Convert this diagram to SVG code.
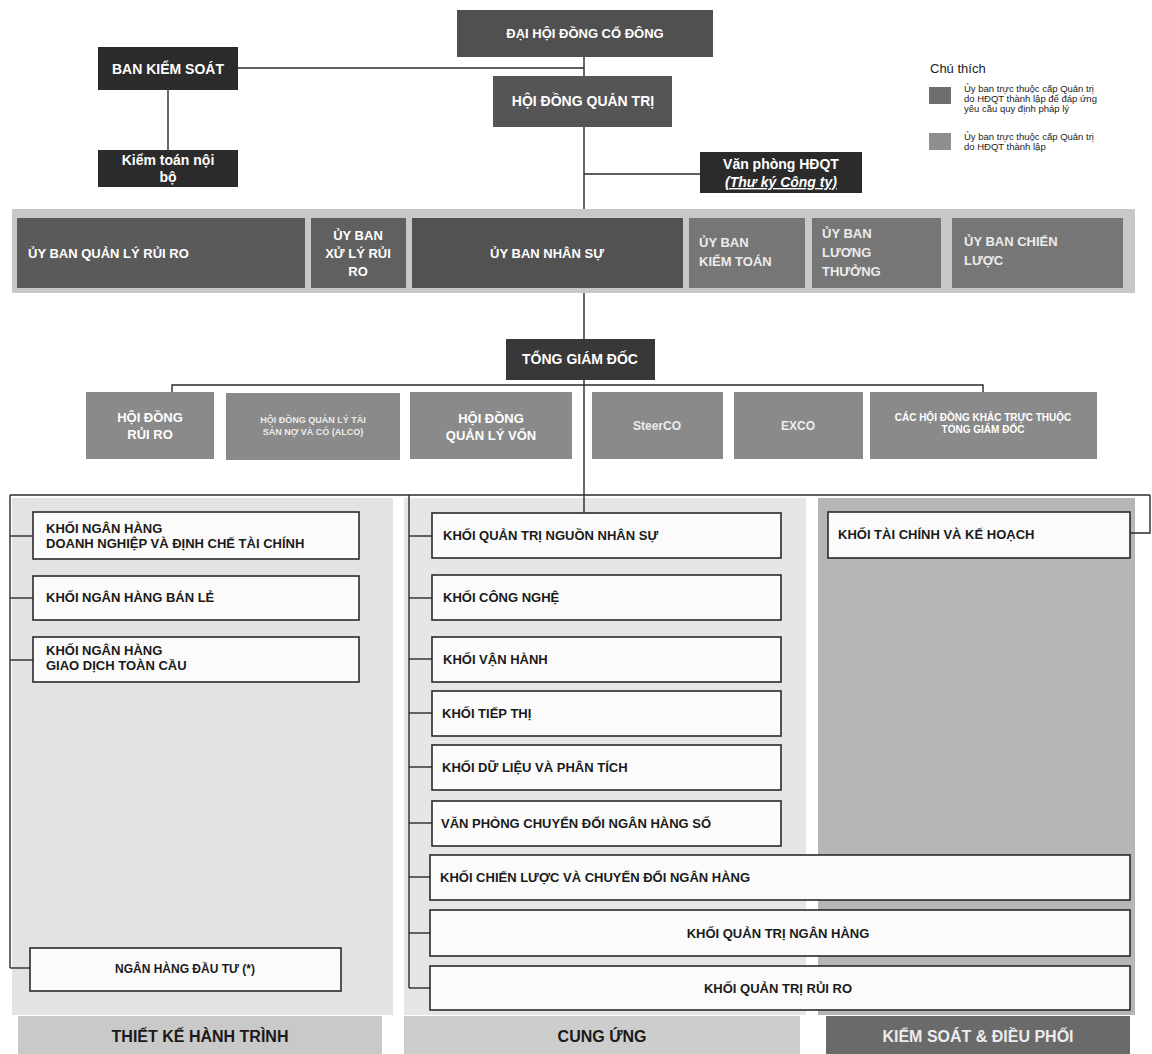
<svg xmlns="http://www.w3.org/2000/svg" width="1152" height="1054" viewBox="0 0 1152 1054">
<style>
text{font-family:"Liberation Sans",Arial,sans-serif;font-weight:bold}
.w{fill:#fff}
.lw{fill:#ececec}
.d{fill:#1a1a1a}
.c{text-anchor:middle}
.s13{font-size:13px}
.s14{font-size:14px}
.s12{font-size:12px}
.s10{font-size:10px}
.s9{font-size:9px}
.box{fill:#fbfbfb;stroke:#2a2a2a;stroke-width:1.6}
.conn line,.conn path{stroke:#2a2a2a;stroke-width:1.4;fill:none}
.leg{font-weight:normal;font-size:9.5px;fill:#222}
</style>
<rect width="1152" height="1054" fill="#ffffff"/>

<g id="column-backgrounds">
<rect x="12" y="498" width="381" height="517" fill="#e3e3e3"/>
<rect x="404" y="498" width="402" height="517" fill="#e6e6e6"/>
<rect x="818" y="498" width="317" height="517" fill="#b6b6b6"/>
</g>

<rect x="12" y="209" width="1123" height="84" fill="#c8c8c8"/>

<g class="conn" id="connectors">
<line x1="238" y1="68" x2="584" y2="68"/>
<line x1="584" y1="57" x2="584" y2="76"/>
<line x1="168" y1="90" x2="168" y2="150"/>
<line x1="584" y1="127" x2="584" y2="209"/>
<line x1="584" y1="174" x2="700" y2="174"/>
<line x1="584" y1="293" x2="584" y2="339"/>
<line x1="584" y1="380" x2="584" y2="513"/>
<path d="M172 392 V385 H983 V392"/>
<line x1="10" y1="495" x2="1150" y2="495"/>
<line x1="10" y1="495" x2="10" y2="968"/>
<line x1="10" y1="536" x2="33" y2="536"/>
<line x1="10" y1="598" x2="33" y2="598"/>
<line x1="10" y1="660" x2="33" y2="660"/>
<line x1="10" y1="968" x2="30" y2="968"/>
<line x1="409" y1="495" x2="409" y2="988"/>
<line x1="409" y1="536" x2="432" y2="536"/>
<line x1="409" y1="598" x2="432" y2="598"/>
<line x1="409" y1="659" x2="432" y2="659"/>
<line x1="409" y1="713" x2="432" y2="713"/>
<line x1="409" y1="767" x2="432" y2="767"/>
<line x1="409" y1="823" x2="432" y2="823"/>
<line x1="409" y1="877" x2="430" y2="877"/>
<line x1="409" y1="933" x2="430" y2="933"/>
<line x1="409" y1="988" x2="430" y2="988"/>
<path d="M1150 495 V533 H1130"/>
</g>

<g id="dhdcd"><rect x="457" y="10" width="256" height="47" fill="#505050"/><text class="w c s13" x="585" y="38">ĐẠI HỘI ĐỒNG CỔ ĐÔNG</text></g>
<g id="hdqt"><rect x="493" y="76" width="179" height="51" fill="#555555"/><text class="w c s14" x="583" y="106">HỘI ĐỒNG QUẢN TRỊ</text></g>
<g id="bks"><rect x="98" y="47" width="140" height="43" fill="#2b2b2b"/><text class="w c s14" x="168" y="74">BAN KIỂM SOÁT</text></g>
<g id="ktnb"><rect x="98" y="150" width="140" height="37" fill="#2b2b2b"/><text class="w c s14" x="168" y="165">Kiểm toán nội</text><text class="w c s14" x="168" y="182">bộ</text></g>
<g id="vanphong"><rect x="700" y="152" width="162" height="41" fill="#2b2b2b"/><text class="w c s14" x="781" y="169">Văn phòng HĐQT</text><text class="w c s14" x="781" y="187" font-style="italic" text-decoration="underline">(Thư ký Công ty)</text></g>

<g id="legend">
<text x="930" y="73" style="font-weight:normal;font-size:13px;fill:#222">Chú thích</text>
<rect x="929" y="87" width="22" height="17" fill="#6e6e6e"/>
<text class="leg" x="964" y="92">Ủy ban trực thuộc cấp Quản trị</text>
<text class="leg" x="964" y="102">do HĐQT thành lập để đáp ứng</text>
<text class="leg" x="964" y="112">yêu cầu quy định pháp lý</text>
<rect x="929" y="133" width="22" height="17" fill="#8e8e8e"/>
<text class="leg" x="964" y="140">Ủy ban trực thuộc cấp Quản trị</text>
<text class="leg" x="964" y="150">do HĐQT thành lập</text>
</g>

<g id="ub-qlrr"><rect x="17" y="218" width="288" height="70" fill="#5a5a5a"/><text class="w s13" x="28" y="258">ỦY BAN QUẢN LÝ RỦI RO</text></g>
<g id="ub-xlrr"><rect x="311" y="218" width="95" height="70" fill="#606060"/><text class="w c s13" x="358" y="240">ỦY BAN</text><text class="w c s13" x="358" y="258">XỬ LÝ RỦI</text><text class="w c s13" x="358" y="276">RO</text></g>
<g id="ub-ns"><rect x="412" y="218" width="271" height="70" fill="#525252"/><text class="w c s13" x="547" y="258">ỦY BAN NHÂN SỰ</text></g>
<g id="ub-kt"><rect x="689" y="218" width="116" height="70" fill="#767676"/><text class="lw s13" x="699" y="247">ỦY BAN</text><text class="lw s13" x="699" y="266">KIỂM TOÁN</text></g>
<g id="ub-lt"><rect x="812" y="218" width="129" height="70" fill="#767676"/><text class="lw s13" x="822" y="238">ỦY BAN</text><text class="lw s13" x="822" y="257">LƯƠNG</text><text class="lw s13" x="822" y="276">THƯỞNG</text></g>
<g id="ub-cl"><rect x="952" y="218" width="171" height="70" fill="#767676"/><text class="lw s13" x="964" y="246">ỦY BAN CHIẾN</text><text class="lw s13" x="964" y="265">LƯỢC</text></g>

<g id="tgd"><rect x="506" y="339" width="149" height="41" fill="#383838"/><text class="w c s14" x="580" y="364">TỔNG GIÁM ĐỐC</text></g>

<g id="hd-rr"><rect x="86" y="392" width="128" height="67" fill="#8a8a8a"/><text class="w c s13" x="150" y="422">HỘI ĐỒNG</text><text class="w c s13" x="150" y="439">RỦI RO</text></g>
<g id="hd-alco"><rect x="226" y="393" width="174" height="67" fill="#8a8a8a"/><text class="lw c s9" x="313" y="423">HỘI ĐỒNG QUẢN LÝ TÀI</text><text class="lw c s9" x="313" y="435">SẢN NỢ VÀ CÓ (ALCO)</text></g>
<g id="hd-qlv"><rect x="410" y="392" width="162" height="67" fill="#8a8a8a"/><text class="w c s13" x="491" y="423">HỘI ĐỒNG</text><text class="w c s13" x="491" y="440">QUẢN LÝ VỐN</text></g>
<g id="steerco"><rect x="592" y="392" width="131" height="67" fill="#8a8a8a"/><text class="lw c s12" x="657" y="430">SteerCO</text></g>
<g id="exco"><rect x="734" y="392" width="129" height="67" fill="#8a8a8a"/><text class="lw c s12" x="798" y="430">EXCO</text></g>
<g id="hd-khac"><rect x="870" y="392" width="227" height="67" fill="#8a8a8a"/><text class="w c s10" x="983" y="421">CÁC HỘI ĐỒNG KHÁC TRỰC THUỘC</text><text class="w c s10" x="983" y="433">TỔNG GIÁM ĐỐC</text></g>

<g id="k-dn"><rect class="box" x="33" y="512" width="326" height="47"/><text class="d s13" x="46" y="533">KHỐI NGÂN HÀNG</text><text class="d s13" x="46" y="548">DOANH NGHIỆP VÀ ĐỊNH CHẾ TÀI CHÍNH</text></g>
<g id="k-bl"><rect class="box" x="33" y="576" width="326" height="44"/><text class="d s13" x="46" y="602">KHỐI NGÂN HÀNG BÁN LẺ</text></g>
<g id="k-gdtc"><rect class="box" x="33" y="637" width="326" height="45"/><text class="d s13" x="46" y="655">KHỐI NGÂN HÀNG</text><text class="d s13" x="46" y="670">GIAO DỊCH TOÀN CẦU</text></g>
<g id="k-nhdt"><rect class="box" x="30" y="948" width="311" height="43"/><text class="d c s12" x="185" y="973">NGÂN HÀNG ĐẦU TƯ (*)</text></g>

<g id="k-ns"><rect class="box" x="432" y="513" width="349" height="45"/><text class="d s13" x="443" y="540">KHỐI QUẢN TRỊ NGUỒN NHÂN SỰ</text></g>
<g id="k-cn"><rect class="box" x="432" y="575" width="349" height="45"/><text class="d s13" x="443" y="602">KHỐI CÔNG NGHỆ</text></g>
<g id="k-vh"><rect class="box" x="432" y="637" width="349" height="45"/><text class="d s13" x="443" y="664">KHỐI VẬN HÀNH</text></g>
<g id="k-tt"><rect class="box" x="432" y="691" width="349" height="45"/><text class="d s13" x="442" y="718">KHỐI TIẾP THỊ</text></g>
<g id="k-dl"><rect class="box" x="432" y="745" width="349" height="45"/><text class="d s13" x="442" y="772">KHỐI DỮ LIỆU VÀ PHÂN TÍCH</text></g>
<g id="k-vpcd"><rect class="box" x="432" y="801" width="349" height="45"/><text class="d s13" x="441" y="828">VĂN PHÒNG CHUYỂN ĐỔI NGÂN HÀNG SỐ</text></g>
<g id="k-cl"><rect class="box" x="430" y="855" width="700" height="45"/><text class="d s13" x="440" y="882">KHỐI CHIẾN LƯỢC VÀ CHUYỂN ĐỔI NGÂN HÀNG</text></g>
<g id="k-qtnh"><rect class="box" x="430" y="910" width="700" height="46"/><text class="d c s13" x="778" y="938">KHỐI QUẢN TRỊ NGÂN HÀNG</text></g>
<g id="k-qtrr"><rect class="box" x="430" y="966" width="700" height="44"/><text class="d c s13" x="778" y="993">KHỐI QUẢN TRỊ RỦI RO</text></g>

<g id="k-tckh"><rect class="box" x="828" y="512" width="302" height="46"/><text class="d s13" x="838" y="539">KHỐI TÀI CHÍNH VÀ KẾ HOẠCH</text></g>

<g id="lbl-tkht"><rect x="18" y="1016" width="364" height="38" fill="#c9c9c9"/><text class="d c" x="200" y="1042" font-size="16">THIẾT KẾ HÀNH TRÌNH</text></g>
<g id="lbl-cu"><rect x="404" y="1016" width="396" height="38" fill="#cdcdcd"/><text class="d c" x="602" y="1042" font-size="16">CUNG ỨNG</text></g>
<g id="lbl-ksdp"><rect x="826" y="1016" width="304" height="38" fill="#6a6a6a"/><text class="lw c" x="978" y="1042" font-size="16">KIỂM SOÁT &amp; ĐIỀU PHỐI</text></g>
</svg>
